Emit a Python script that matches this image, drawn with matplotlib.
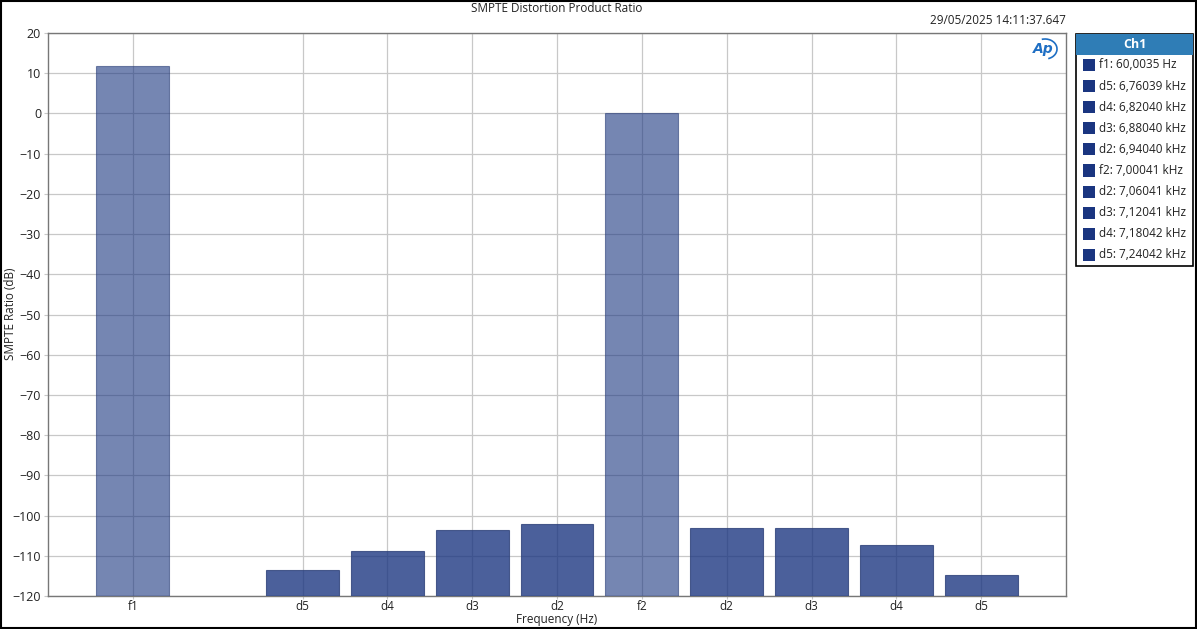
import matplotlib
matplotlib.use("Agg")
import matplotlib.pyplot as plt
from matplotlib.patches import Rectangle, Arc
import numpy as np

plt.rcParams['font.family'] = ['Open Sans', 'DejaVu Sans']

# ---- data ----
bar_labels = ['f1', 'd5', 'd4', 'd3', 'd2', 'f2', 'd2', 'd3', 'd4', 'd5']
bar_values = [11.9, -113.5, -108.7, -103.5, -102.2, 0.0, -103.0, -103.2, -107.2, -114.7]
is_fundamental = [True, False, False, False, False, True, False, False, False, False]
legend_labels = ['f1: 60,0035 Hz', 'd5: 6,76039 kHz', 'd4: 6,82040 kHz', 'd3: 6,88040 kHz',
                 'd2: 6,94040 kHz', 'f2: 7,00041 kHz', 'd2: 7,06041 kHz', 'd3: 7,12041 kHz',
                 'd4: 7,18042 kHz', 'd5: 7,24042 kHz']
yticks = list(range(-120, 21, 10))
title = 'SMPTE Distortion Product Ratio'
timestamp = '29/05/2025 14:11:37.647'

W, H = 1197, 629
fig = plt.figure(figsize=(W / 100, H / 100), dpi=100)

def fx(px):
    return px / W

def fy(py):
    return 1 - py / H

ax = fig.add_axes([fx(48), fy(596), fx(1066) - fx(48), fy(33) - fy(596)])

# slot positions: gap of one slot after f1
slots = [0] + list(range(2, 2 + len(bar_labels) - 1))
base = '#1a3580'
for s, v, fund in zip(slots, bar_values, is_fundamental):
    ax.bar(s, v - (-120), bottom=-120, width=0.86, color=base,
           alpha=0.6 if fund else 0.79, edgecolor='#2a3f78', linewidth=0.8, zorder=3)

ax.set_xlim(-1, 11)
ax.set_ylim(-120, 20)
ax.set_xticks(slots)
ax.set_xticklabels(bar_labels)
ax.set_yticks(yticks)
ax.grid(True, color='#c8c8c8', linewidth=0.9, zorder=1)
ax.set_axisbelow(True)
ax.tick_params(axis='y', length=3, color='#c8c8c8', labelsize=9, labelcolor='#222222', pad=2)
ax.tick_params(axis='x', length=2, color='#c8c8c8', labelsize=8.5, labelcolor='#222222', pad=1)
for sp in ax.spines.values():
    sp.set_color('#777777')
    sp.set_linewidth(1.0)

fig.text(fx(557), fy(620), 'Frequency (Hz)', ha='center', va='center', fontsize=8.5, color='#222222')
fig.text(fx(11), fy(314), 'SMPTE Ratio (dB)', ha='center', va='center', rotation=90,
         fontsize=8.5, color='#222222')

fig.text(fx(557), fy(8), title, ha='center', va='center', fontsize=8.5, color='#222222')
fig.text(fx(1066), fy(20), timestamp, ha='right', va='center', fontsize=8.5, color='#222222')

# Ap logo
fig.text(fx(1043), fy(49), 'Ap', ha='center', va='center', fontsize=10, fontweight='bold',
         fontstyle='italic', color='#1f6fc4', family=['DejaVu Sans'])
fig.patches.append(Arc((fx(1045), fy(49)), fx(24), 20 / H, theta1=-80, theta2=100,
                       color='#1f6fc4', lw=1.2, transform=fig.transFigure))

# figure border
fig.patches.append(Rectangle((0.0008, 0.0015), 0.9984, 0.997, transform=fig.transFigure,
                             fill=False, edgecolor='black', linewidth=1.5))

# legend box
lx0, lx1, ly0, ly1 = 1076, 1193, 34, 266
fig.patches.append(Rectangle((fx(lx0), fy(ly1)), fx(lx1) - fx(lx0), fy(ly0) - fy(ly1),
                             transform=fig.transFigure, facecolor='white', edgecolor='black', lw=1.2))
fig.patches.append(Rectangle((fx(lx0), fy(55)), fx(lx1) - fx(lx0), fy(ly0) - fy(55),
                             transform=fig.transFigure, facecolor='#2f7db6', edgecolor='none'))
fig.text(fx((lx0 + lx1) / 2), fy(44.5), 'Ch1', ha='center', va='center', fontsize=9,
         fontweight='bold', color='white')
for i, lab in enumerate(legend_labels):
    yc = 65 + i * 21.1
    fig.patches.append(Rectangle((fx(1083), fy(yc + 6)), fx(12), 12 / H,
                                 transform=fig.transFigure, facecolor='#1a3580', edgecolor='none'))
    fig.text(fx(1099), fy(yc), lab, ha='left', va='center', fontsize=8.5, color='#222222')

fig.savefig('out.png', dpi=100)
